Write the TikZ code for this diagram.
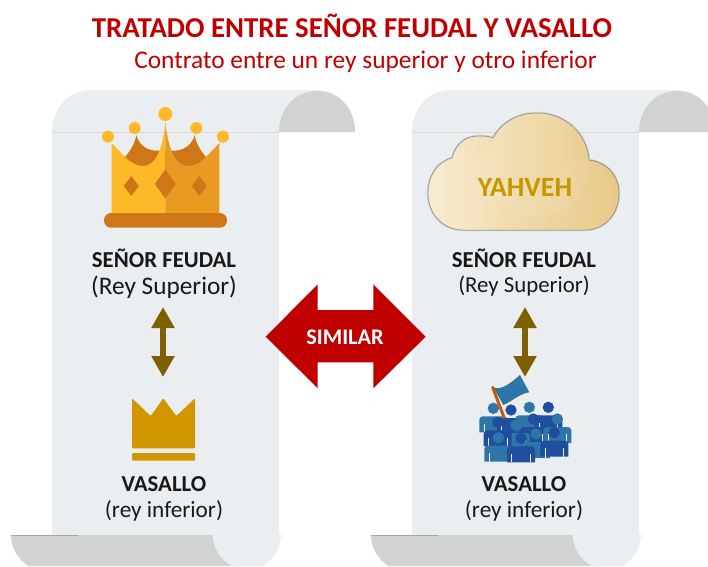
\documentclass[tikz,border=0pt]{standalone}
\usepackage{fontspec}
\setmainfont{Carlito}
\usetikzlibrary{arrows.meta}
\definecolor{tituloc}{HTML}{C00000}
\definecolor{papelc}{HTML}{EBEEF1}
\definecolor{rolloc}{HTML}{D1D3D1}
\definecolor{lineac}{HTML}{D8DADA}
\definecolor{cafec}{HTML}{7F6000}
\definecolor{oroc}{HTML}{FDB927}
\definecolor{naranjac}{HTML}{E89A22}
\definecolor{oscuroc}{HTML}{CF7717}
\definecolor{doradoc}{HTML}{D19600}
\definecolor{yahvehc}{HTML}{C89600}
\definecolor{azulc}{HTML}{2E75A8}
\definecolor{marinoc}{HTML}{1F4E9E}
\definecolor{mastilc}{HTML}{C55A11}
\definecolor{nubeac}{HTML}{F7EBCF}
\definecolor{nubebc}{HTML}{E6C67F}
\tikzstyle{every node}=[font=\fontsize{23}{23}\selectfont,text=black!90,align=center]
\tikzstyle{negrita}=[font=\fontsize{22.8}{23}\selectfont\bfseries]
\tikzstyle{flecha}=[cafec,line width=6pt,line cap=butt,{Triangle[width=22pt,length=21pt]}-{Triangle[width=22pt,length=21pt]}]
\newcommand{\personicon}[3]{%
  \fill[#3] (#1,#2) circle (17);
  \fill[#3,rounded corners=3.5pt] (#1-42,#2+72) [rounded corners=3.5pt] -- (#1-42,#2+24) -- (#1+42,#2+24) [sharp corners] -- (#1+42,#2+72) -- cycle;
  \draw[papelc,line width=0.6pt,line cap=butt] (#1-28,#2+46) -- (#1-28,#2+72) (#1+28,#2+46) -- (#1+28,#2+72);
}
\begin{document}
\begin{tikzpicture}[line cap=round,line join=round,x=1pt,y=-1pt]
  \clip (0,0) rectangle (708,566);
  % los dos rollos
  \foreach \desp in {0,360} {
    \begin{scope}[xshift=\desp pt]
      \fill[papelc] (52,132) rectangle (279,536);
      \fill[papelc] (52,132) .. controls (52,108) and (68,90) .. (92,90) -- (318,90) .. controls (339,90) and (355,108) .. (355,132) -- cycle;
      \fill[rolloc] (279,132) .. controls (279,108) and (296,91) .. (317,91) .. controls (338,91) and (355,108) .. (355,132) -- cycle;
      \draw[lineac,line width=0.7pt] (52,132) -- (279,132);
      \fill[rolloc] (11,535) -- (214,535) -- (236,566) -- (28,566) .. controls (17,558) and (11,547) .. (11,535) -- cycle;
      \draw[gray!70,line width=0.5pt] (11,535) -- (78,535);
      \fill[papelc] (213,535) .. controls (213,549) and (221,560) .. (232,566) -- (263,566) .. controls (274,559) and (281,547) .. (281,534) -- cycle;
    \end{scope}
  }
  % corona grande
  \fill[oscuroc] (125,157) .. controls (131,150) and (135,143) .. (136.3,135) .. controls (139,145) and (147,151) .. (158,150.7) -- (172,150.7) .. controls (184,151) and (192,145) .. (194.7,135) .. controls (196,143) and (200,150) .. (206,157) -- (190,175) -- (140,175) -- cycle;
  \fill[oroc] (111.7,143) -- (125,157) .. controls (131,163) and (137,166) .. (143,166) .. controls (156,166) and (163,148) .. (165.3,121.7) -- (165.3,213) -- (111.7,213) -- cycle;
  \fill[naranjac] (219.3,143) -- (206,157) .. controls (200,163) and (194,166) .. (188,166) .. controls (175,166) and (168,148) .. (165.3,121.7) -- (165.3,213) -- (219.3,213) -- cycle;
  \foreach \cx/\cy/\cw/\ch in {131.3/186/7.5/10,165.3/184/10.5/14.5,199.3/186/7.5/10}
    \fill[oscuroc] (\cx-\cw,\cy) -- (\cx,\cy-\ch) -- (\cx+\cw,\cy) -- (\cx,\cy+\ch) -- cycle;
  \foreach \cx/\cy/\cr in {165.3/114/7,134.7/128/6,196.3/128/6,108/136.7/6,223/136.7/6}
    \fill[oroc] (\cx,\cy) circle (\cr);
  \fill[oscuroc,rounded corners=7pt] (104,213) rectangle (227,227.7);
  % corona chica
  \fill[doradoc,rounded corners=1pt] (132,398.3) -- (150.7,416) -- (163.3,398.3) -- (176.3,416) -- (195,398.3) -- (195,448.3) -- (132,448.3) -- cycle;
  \fill[doradoc,rounded corners=1pt] (132,453) rectangle (195,460.7);
  % nube
  \def\nube{(463,230) -- (585,230) .. controls (605,230) and (619,214) .. (619,193) .. controls (619,176) and (607,162) .. (589,160) .. controls (587,133) and (565,113) .. (537,113) .. controls (517,113) and (501,123) .. (493,138) .. controls (488,136) and (483,136) .. (478,136) .. controls (465,136) and (455,145) .. (452,158) .. controls (437,162) and (428,176) .. (428,193) .. controls (428,214) and (443,230) .. (463,230) -- cycle}
  \draw[black!40,line width=2.2pt,opacity=.4] \nube;
  \shade[left color=nubeac,right color=nubebc,draw=black!50,line width=0.5pt] \nube;
  \begin{scope}
    \clip \nube;
    \fill[white,opacity=.08] (537,165) circle (52);
    \fill[white,opacity=.08] (465,193) circle (37);
    \fill[white,opacity=.06] (582,197) circle (37);
  \end{scope}
  \node[font=\fontsize{27.9}{28}\selectfont\bfseries,text=yahvehc] (yahveh) at (525,187) {YAHVEH};
  % gente
  \begin{scope}[shift={(440,360)},x=0.3333pt,y=-0.3333pt]
    \fill[azulc] (160,82) .. controls (185,92) and (210,70) .. (240,45) -- (268,97) .. controls (240,100) and (215,125) .. (190,135) -- cycle;
    \foreach \px/\py/\pc in {160/145/azulc,213/150/marinoc,268/142/azulc,325/142/marinoc,280/177/marinoc,352/177/azulc,228/195/azulc,173/187/marinoc,288/222/azulc,343/218/marinoc,175/233/azulc,243/235/marinoc} {
      \personicon{\px}{\py}{\pc}
    }
    \draw[mastilc,line width=3pt] (158,82) -- (192,172);
  \end{scope}
  % textos
  \node[font=\fontsize{28.8}{29}\selectfont\bfseries,text=tituloc] (titulo) at (352,26) {TRATADO ENTRE SEÑOR FEUDAL Y VASALLO};
  \node[font=\fontsize{25.4}{26}\selectfont,text=tituloc] (subtitulo) at (365.5,62) {Contrato entre un rey superior y otro inferior};
  \node[negrita] (senorA) at (164,258) {SEÑOR FEUDAL};
  \node[font=\fontsize{25.3}{26}\selectfont] (reyA) at (164,287) {(Rey Superior)};
  \node[negrita] (vasalloA) at (164,484) {VASALLO};
  \node[font=\fontsize{23.2}{24}\selectfont] (infA) at (164,511) {(rey inferior)};
  \node[negrita] (senorB) at (524,258) {SEÑOR FEUDAL};
  \node[font=\fontsize{22.8}{23}\selectfont] (reyB) at (524,285.5) {(Rey Superior)};
  \node[negrita] (vasalloB) at (524,484) {VASALLO};
  \node[font=\fontsize{23.2}{24}\selectfont] (infB) at (524,511) {(rey inferior)};
  % flechas
  \coordinate (arribaA) at (163,307);
  \coordinate (abajoA) at (163,377);
  \coordinate (arribaB) at (525,307);
  \coordinate (abajoB) at (525,377);
  \draw[flecha] (arribaA) -- (abajoA);
  \draw[flecha] (arribaB) -- (abajoB);
  \fill[tituloc] (265.7,336.7) -- (317.7,284.3) -- (317.7,310) -- (373.3,310) -- (373.3,284.3) -- (425.7,336.7) -- (373.3,388.3) -- (373.3,362.3) -- (317.7,362.3) -- (317.7,388.3) -- cycle;
  \node[font=\fontsize{22.3}{23}\selectfont\bfseries,text=white] (similar) at (345,337) {SIMILAR};
\end{tikzpicture}
\end{document}
